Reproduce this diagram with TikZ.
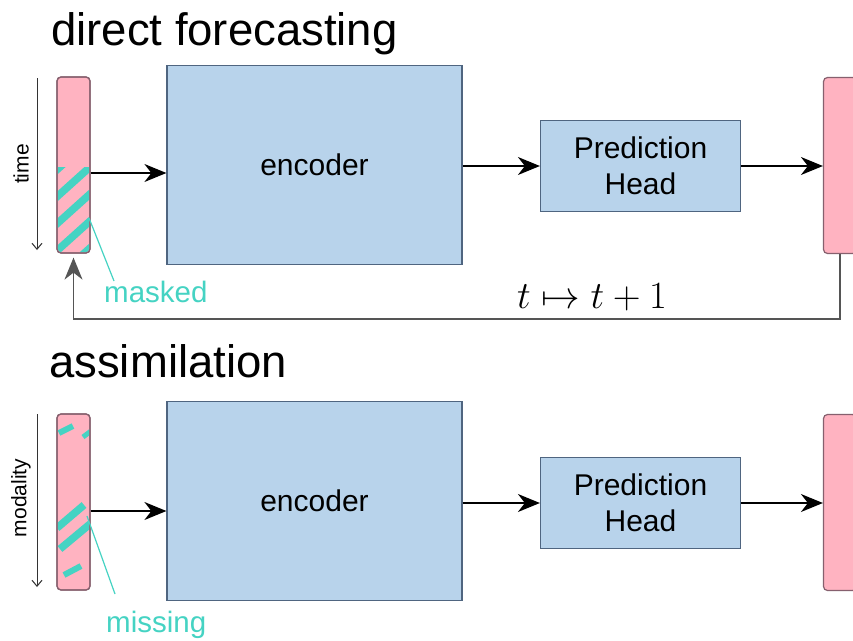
\documentclass[tikz,border=0pt]{standalone}
\usepackage{fontspec}
\setmainfont{Liberation Sans}
\usetikzlibrary{arrows.meta}
\definecolor{pinkf}{HTML}{FFB3C1}
\definecolor{pinkd}{HTML}{86606E}
\definecolor{bluef}{HTML}{B8D3EB}
\definecolor{blued}{HTML}{4F6580}
\definecolor{tealc}{HTML}{45D3C3}
\definecolor{fbgray}{HTML}{555555}
\begin{document}
\begin{tikzpicture}[x=1pt,y=-1pt,
  bar/.style={draw=pinkd, fill=pinkf, line width=1.2pt, rounded corners=4pt, minimum width=33pt, minimum height=176pt, inner sep=0pt},
  encbox/.style={draw=blued, fill=bluef, line width=1.2pt, minimum width=295pt, minimum height=199pt, inner sep=0pt, font=\fontsize{30}{36}\selectfont},
  headbox/.style={draw=blued, fill=bluef, line width=1.2pt, minimum width=200pt, minimum height=91pt, inner sep=0pt, align=center, font=\fontsize{30}{36}\selectfont},
  title/.style={anchor=base west, inner sep=0pt, font=\fontsize{45.5}{52}\selectfont},
  conn/.style={line width=1.4pt, -{Stealth[length=22pt,width=18pt,inset=7pt]}},
  axis/.style={line width=1pt, draw=black!80, -{Straight Barb[length=6pt,width=10pt]}},
  axlabel/.style={rotate=90, inner sep=0pt, font=\fontsize{21}{25}\selectfont},
  lead/.style={draw=tealc, line width=1.2pt},
  teallabel/.style={anchor=base west, inner sep=0pt, text=tealc, font=\fontsize{29.5}{34}\selectfont},
  stripe/.style={draw=tealc, line width=7.5pt}
]
\useasboundingbox (0,0) rectangle (853,640);
\fill[white] (0,0) rectangle (853,640);

% ---------- direct forecasting ----------
\node[title] (t1) at (51,45) {direct forecasting};
\coordinate (ax1s) at (37,78);
\coordinate (ax1e) at (37,250);
\draw[axis] (ax1s) -- (ax1e);
\node[axlabel] (lab1) at (21,164) {time};

\node[bar] (in1) at (73.5,165) {};
\begin{scope}
  \clip[rounded corners=4pt] (57.6,77.6) rectangle (89.4,252.4);
  \clip (50,167) rectangle (100,260);
  \foreach \yy in {170,197,224,251,278}
    \draw[stripe] (50,\yy+6) -- (100,\yy-39);
\end{scope}
\draw[pinkd, line width=1.2pt, rounded corners=4pt] (57,77) rectangle (90,253);

\node[encbox] (enc1) at (314.5,165) {encoder};
\node[headbox] (head1) at (640.5,166) {Prediction\\Head};
\node[bar] (out1) at (840,165.5) {};

\draw[conn] (in1.east |- 0,173) -- (enc1.west |- 0,173);
\draw[conn] (enc1.east |- head1.west) -- (head1.west);
\draw[conn] (head1.east) -- (out1.west |- head1.east);

\coordinate (fbl) at (73.5,319);
\draw[line width=1.4pt, draw=fbgray, -{Stealth[length=22pt,width=18pt,inset=7pt]}, shorten >=4pt]
  (out1.south) |- (fbl) -- (in1.south);
\node (map) at (592,297) {\scalebox{1.55}{\fontsize{24.88}{30}\selectfont $t\mapsto t+1$}};

\coordinate (m1a) at (89,218);
\node[teallabel] (masked) at (104,302) {masked};
\draw[lead] (m1a) -- (114,281);

% ---------- assimilation ----------
\node[title] (t2) at (49,377) {assimilation};
\coordinate (ax2s) at (37,414);
\coordinate (ax2e) at (37,587);
\draw[axis] (ax2s) -- (ax2e);
\node[axlabel] (lab2) at (21,498) {modality};

\node[bar] (in2) at (73.5,502) {};
\begin{scope}
  \clip[rounded corners=4pt] (57.6,414.6) rectangle (89.4,589.4);
  \draw[draw=tealc, line width=6pt] (59,433) -- (73,426);
  \draw[draw=tealc, line width=5pt] (83,437) -- (91,431);
  \draw[stripe] (57,528) -- (84,505);
  \draw[stripe] (60,549) -- (90,524);
  \draw[draw=tealc, line width=6pt] (64,575) -- (81,566);
\end{scope}
\draw[pinkd, line width=1.2pt, rounded corners=4pt] (57,414) rectangle (90,590);

\node[encbox] (enc2) at (314.5,501) {encoder};
\node[headbox] (head2) at (640.5,503) {Prediction\\Head};
\node[bar] (out2) at (840,502.5) {};

\draw[conn] (in2.east |- 0,511) -- (enc2.west |- 0,511);
\draw[conn] (enc2.east |- head2.west) -- (head2.west);
\draw[conn] (head2.east) -- (out2.west |- head2.east);

\coordinate (m2a) at (87,516);
\node[teallabel] (missing) at (106,632) {missing};
\draw[lead] (m2a) -- (115,594);
\end{tikzpicture}
\end{document}
